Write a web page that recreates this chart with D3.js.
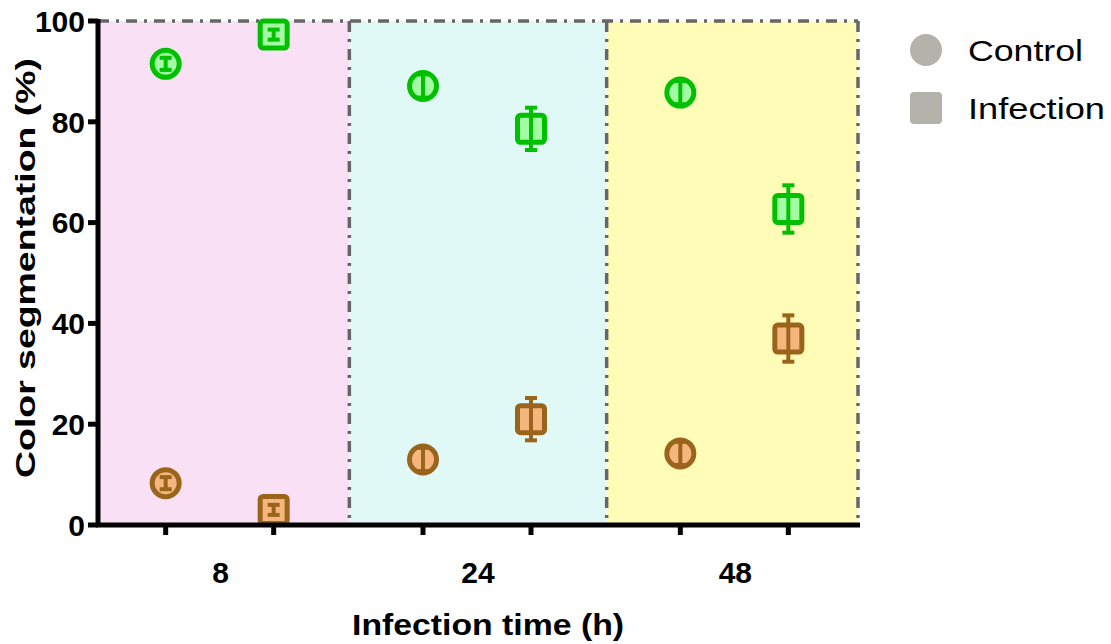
<!DOCTYPE html>
<html lang="en">
<head>
<meta charset="utf-8">
<title>Color segmentation</title>
<script src="https://cdnjs.cloudflare.com/ajax/libs/d3/7.8.5/d3.min.js"></script>
<style>
	body { margin: 0; background: #fff; }
	svg text { font-family: Arial, "Liberation Sans", sans-serif; fill: #000; }
	.tick-label { font-weight: bold; font-size: 30px; }
	.axis-title { font-weight: bold; font-size: 30px; }
	.legend-label { font-size: 30px; }
</style>
</head>
<body>
<div id="chart"></div>
<script>
// data
var times = ["8", "24", "48"];
var groups = ["Control", "Infection"];
var greenControl = [91.5, 87.1, 85.8];
var greenControlErr = [1.2, 2.3, 2.3];
var greenInfection = [97.3, 78.6, 62.7];
var greenInfectionErr = [1.0, 4.2, 4.7];
var brownControl = [8.3, 13.0, 14.2];
var brownControlErr = [1.2, 2.3, 2.3];
var brownInfection = [3.0, 21.0, 37.0];
var brownInfectionErr = [1.0, 4.2, 4.6];
var yTicks = [0, 20, 40, 60, 80, 100];
var bandColors = ["#f9e0f5", "#e0f9f7", "#fffcb8"];

var width = 1111, height = 644;
var mLeft = 98, mRight = 858, mTop = 21, mBottom = 525;

var svg = d3.select("#chart").append("svg")
	.attr("width", width)
	.attr("height", height);

var x = d3.scaleBand().domain(times).range([92, 864]);
var xg = d3.scalePoint().domain(groups).range([-55, 53]);
var y = d3.scaleLinear().domain([0, 100]).range([mBottom, mTop]);

//background bands, clipped to the plot area
svg.selectAll(".band")
	.data(times)
	.enter().append("rect")
	.attr("x", function(d) { return Math.max(x(d), mLeft); })
	.attr("y", y(100))
	.attr("width", function(d) { return Math.min(x(d) + x.bandwidth(), mRight) - Math.max(x(d), mLeft); })
	.attr("height", y(0) - y(100))
	.attr("fill", function(d, i) { return bandColors[i]; });

//dash-dot borders
var dash = "11,7,3,7";
svg.append("line")
	.attr("x1", mLeft).attr("x2", mRight)
	.attr("y1", y(100)).attr("y2", y(100))
	.attr("stroke", "#666").attr("stroke-width", 3.5)
	.attr("stroke-dasharray", dash);
svg.selectAll(".sep")
	.data(times.slice(1).concat(["end"]))
	.enter().append("line")
	.attr("x1", function(d) { return d == "end" ? mRight : x(d); })
	.attr("x2", function(d) { return d == "end" ? mRight : x(d); })
	.attr("y1", y(100)).attr("y2", y(0))
	.attr("stroke", "#666").attr("stroke-width", 3.5)
	.attr("stroke-dasharray", dash);

//series
var series = [
	{ group: "Control", vals: greenControl, err: greenControlErr, stroke: "#00c000", fill: "#a3fba3" },
	{ group: "Infection", vals: greenInfection, err: greenInfectionErr, stroke: "#00c000", fill: "#a3fba3" },
	{ group: "Control", vals: brownControl, err: brownControlErr, stroke: "#9a641c", fill: "#f5b67e" },
	{ group: "Infection", vals: brownInfection, err: brownInfectionErr, stroke: "#9a641c", fill: "#f5b67e" }
];

series.forEach(function(s) {
	var pts = times.map(function(t, i) {
		return { cx: x(t) + x.bandwidth() / 2 + xg(s.group), v: s.vals[i], e: s.err[i] };
	});
	var g = svg.append("g");
	if (s.group == "Control") {
		g.selectAll("circle").data(pts).enter().append("circle")
			.attr("cx", function(d) { return d.cx; })
			.attr("cy", function(d) { return y(d.v); })
			.attr("r", 13.5)
			.attr("fill", s.fill)
			.attr("stroke", s.stroke)
			.attr("stroke-width", 5);
	} else {
		g.selectAll("rect").data(pts).enter().append("rect")
			.attr("x", function(d) { return d.cx - 13.5; })
			.attr("y", function(d) { return y(d.v) - 13.5; })
			.attr("width", 27).attr("height", 27)
			.attr("rx", 3)
			.attr("fill", s.fill)
			.attr("stroke", s.stroke)
			.attr("stroke-width", 5);
	}
	//error bars
	g.selectAll(".eb").data(pts).enter().append("line")
		.attr("x1", function(d) { return d.cx; })
		.attr("x2", function(d) { return d.cx; })
		.attr("y1", function(d) { return y(d.v + d.e); })
		.attr("y2", function(d) { return y(d.v - d.e); })
		.attr("stroke", s.stroke).attr("stroke-width", 4);
	[1, -1].forEach(function(sign) {
		g.selectAll(".cap").data(pts).enter().append("line")
			.attr("x1", function(d) { return d.cx - 6; })
			.attr("x2", function(d) { return d.cx + 6; })
			.attr("y1", function(d) { return y(d.v + sign * d.e); })
			.attr("y2", function(d) { return y(d.v + sign * d.e); })
			.attr("stroke", s.stroke).attr("stroke-width", 4);
	});
});

//y axis
var yAxis = svg.append("g");
yAxis.append("line")
	.attr("x1", mLeft).attr("x2", mLeft)
	.attr("y1", y(100) - 2).attr("y2", y(0) + 2)
	.attr("stroke", "#000").attr("stroke-width", 5);
yAxis.selectAll(".yt").data(yTicks).enter().append("line")
	.attr("x1", mLeft - 10).attr("x2", mLeft)
	.attr("y1", function(d) { return y(d); })
	.attr("y2", function(d) { return y(d); })
	.attr("stroke", "#000").attr("stroke-width", 5);
yAxis.selectAll("text").data(yTicks).enter().append("text")
	.attr("class", "tick-label")
	.attr("x", mLeft - 13)
	.attr("y", function(d) { return y(d); })
	.attr("dy", "0.36em")
	.attr("text-anchor", "end")
	.text(function(d) { return d; });

//x axis
var xAxis = svg.append("g");
xAxis.append("line")
	.attr("x1", mLeft - 2).attr("x2", mRight + 2)
	.attr("y1", y(0)).attr("y2", y(0))
	.attr("stroke", "#000").attr("stroke-width", 5);
var xTickPos = [];
times.forEach(function(t) {
	groups.forEach(function(gr) { xTickPos.push(x(t) + x.bandwidth() / 2 + xg(gr)); });
});
xAxis.selectAll(".xt").data(xTickPos).enter().append("line")
	.attr("x1", function(d) { return d; })
	.attr("x2", function(d) { return d; })
	.attr("y1", y(0)).attr("y2", y(0) + 10)
	.attr("stroke", "#000").attr("stroke-width", 5);
xAxis.selectAll("text").data(times).enter().append("text")
	.attr("class", "tick-label")
	.attr("x", function(d) { return x(d) + x.bandwidth() / 2; })
	.attr("y", 583)
	.attr("text-anchor", "middle")
	.text(function(d) { return d; });

//axis titles
svg.append("text")
	.attr("class", "axis-title")
	.attr("x", 488).attr("y", 635)
	.attr("text-anchor", "middle")
	.attr("textLength", 272)
	.attr("lengthAdjust", "spacingAndGlyphs")
	.text("Infection time (h)");
svg.append("text")
	.attr("class", "axis-title")
	.style("font-size", "28px")
	.attr("transform", "translate(35,268) rotate(-90)")
	.attr("text-anchor", "middle")
	.attr("textLength", 420)
	.attr("lengthAdjust", "spacingAndGlyphs")
	.text("Color segmentation (%)");

//legend
var legend = svg.append("g");
legend.append("circle")
	.attr("cx", 926).attr("cy", 50).attr("r", 16)
	.attr("fill", "#b3b3ab");
legend.append("rect")
	.attr("x", 910).attr("y", 92).attr("width", 32).attr("height", 32)
	.attr("rx", 4)
	.attr("fill", "#b3b3ab");
var legendLen = [115, 137];
legend.selectAll("text").data(groups).enter().append("text")
	.attr("class", "legend-label")
	.attr("x", 968)
	.attr("y", function(d, i) { return 61 + i * 58; })
	.attr("textLength", function(d, i) { return legendLen[i]; })
	.attr("lengthAdjust", "spacingAndGlyphs")
	.text(function(d) { return d; });
</script>
</body>
</html>
